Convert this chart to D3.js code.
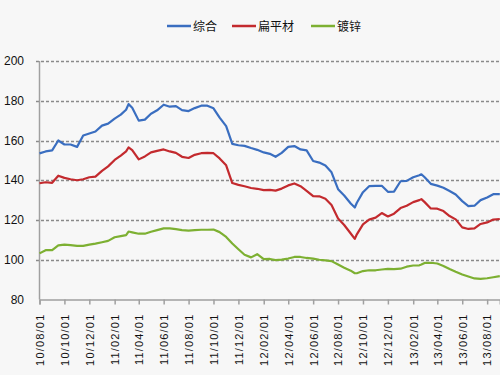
<!DOCTYPE html>
<html>
<head>
<meta charset="utf-8">
<script src="https://cdn.jsdelivr.net/npm/d3@7"></script>
<style>
  body { margin: 0; background: #f7f7f7; }
  svg { display: block; background: #f7f7f7; }
  .tick-label { font-family: "Liberation Sans", "DejaVu Sans", sans-serif; font-size: 11px; fill: #111; }
  .legend-text { font-family: "Noto Sans CJK SC", sans-serif; font-size: 12px; fill: #111; }
</style>
</head>
<body>
<svg id="chart"></svg>
<script>
// dates of the readings (yy/mm/dd)
const dates = [
  '10/08/01','10/08/16','10/09/01','10/09/16','10/10/01','10/10/16','10/11/01','10/11/16','10/12/01','10/12/16',
  '11/01/01','11/01/16','11/02/01','11/02/16','11/03/01','11/03/07','11/03/16','11/04/01','11/04/16','11/05/01',
  '11/05/16','11/06/01','11/06/16','11/07/01','11/07/16','11/08/01','11/08/16','11/09/01','11/09/16','11/10/01',
  '11/10/16','11/11/01','11/11/16','11/12/01','11/12/16',
  '12/01/01','12/01/16','12/02/01','12/02/16','12/03/01','12/03/16','12/04/01','12/04/16','12/05/01','12/05/16',
  '12/06/01','12/06/16','12/07/01','12/07/16','12/08/01','12/08/16','12/09/01','12/09/11','12/09/16','12/10/01',
  '12/10/16','12/11/01','12/11/16','12/12/01','12/12/16',
  '13/01/01','13/01/16','13/02/01','13/02/16','13/02/21','13/03/01','13/03/16','13/04/01','13/04/16','13/05/01',
  '13/05/16','13/06/01','13/06/16','13/07/01','13/07/16','13/08/01','13/08/16','13/09/01'
];

const composite = [
  153.5,154.5,155,160,158,158,156.8,162.5,163.5,164.5,
  167.5,168.5,171,173,175.5,178.3,176.5,170,170.5,173.5,175.2,178,177,177.3,175.3,174.8,176.3,177.5,177.5,176.2,171.5,167.2,158.3,157.6,157.3,
  156.2,155.3,154,153.3,151.8,153.8,156.8,157.2,155.5,155,149.7,148.9,147.4,144,135.5,132.3,128.3,126.3,128.7,134,137,137.2,137.2,134.2,134.3,
  139.5,139.7,141.5,142.5,143,141.5,138.2,137.3,136.2,134.6,132.8,129.5,127,127.2,130,131.3,133,133
];

const flat = [
  138.5,139,138.7,142.3,141.2,140.5,140,140.5,141.5,141.8,
  144.7,147,150.2,152.4,154.5,156.5,155.2,150.5,152,154,154.8,155.5,154.5,153.8,151.8,151.2,152.8,153.6,153.8,153.6,151,147.5,138.6,137.7,137,
  136.1,135.7,135,135.2,134.8,135.8,137.4,138.4,137,134.7,132,131.9,130.7,127.5,120.8,117.5,113.2,110.5,112.8,117.8,120.2,121.2,123.5,121.8,123.2,
  126,127.2,129,130,130.5,129,125.8,125.7,124.5,122,120.3,116.3,115.5,115.8,118,118.8,120.2,120.5
];

const galvanized = [
  103.2,104.8,104.8,107.2,107.6,107.4,107,107,107.6,108.1,
  108.8,109.5,111.3,111.9,112.4,114.2,113.8,113.1,113.1,114.1,114.9,115.8,115.8,115.4,114.9,114.7,114.9,115.1,115.1,115.2,113.9,111.5,108.2,105.3,102.5,
  101.2,102.8,100.3,100.4,99.8,100.1,100.6,101.4,101.4,100.9,100.6,100,99.7,99.3,97.6,96,94.5,93.2,93.2,94.3,94.7,94.7,95.1,95.4,95.3,
  95.5,96.5,97.1,97.2,97.6,98.4,98.5,98.1,96.9,95.4,94,92.6,91.6,90.6,90.4,90.7,91.2,91.8
];

const seriesNames = ['综合', '扁平材', '镀锌'];
const seriesColors = ['#3a6ec0', '#c32a2e', '#7db032'];

const xTickLabels = [
  '10/08/01','10/10/01','10/12/01','11/02/01','11/04/01','11/06/01','11/08/01','11/10/01','11/12/01',
  '12/02/01','12/04/01','12/06/01','12/08/01','12/10/01','12/12/01','13/02/01','13/04/01','13/06/01','13/08/01'
];
const yTicks = [80, 100, 120, 140, 160, 180, 200];

const width = 500, height = 375;
const margin = { top: 61, right: 0, bottom: 75, left: 39.5 };
const parseDate = d3.timeParse('%y/%m/%d');

const svg = d3.select('#chart')
              .attr('width', width)
              .attr('height', height);

const x = d3.scaleTime()
            .domain([parseDate('10/08/01'), parseDate('13/09/01')])
            .range([margin.left, width - 0.2]);
const y = d3.scaleLinear()
            .domain([80, 200])
            .range([height - margin.bottom - 0.5, margin.top]);

// dashed grid lines
svg.append('g')
   .selectAll('line')
   .data(yTicks.filter(d => d > 80))
   .enter().append('line')
   .attr('x1', 36)
   .attr('x2', width)
   .attr('y1', d => Math.round(y(d)) + 0.5)
   .attr('y2', d => Math.round(y(d)) + 0.5)
   .attr('stroke', '#8a8a8a')
   .attr('stroke-width', 1.5)
   .attr('stroke-dasharray', '3,2');

// y labels
svg.append('g')
   .selectAll('text')
   .data(yTicks)
   .enter().append('text')
   .attr('class', 'tick-label')
   .style('font-size', '12px')
   .attr('x', 24)
   .attr('y', d => y(d))
   .attr('dy', '0.35em')
   .attr('text-anchor', 'end')
   .text(d => d);

// x axis
const xAxis = svg.append('g')
   .attr('transform', `translate(0,${y(80)})`)
   .call(d3.axisBottom(x)
           .tickValues(xTickLabels.map(parseDate))
           .tickSize(5)
           .tickFormat(d3.timeFormat('%y/%m/%d')));
xAxis.select('.domain').attr('stroke', '#a0a0a0').attr('stroke-width', 1.5);
xAxis.selectAll('.tick line').attr('stroke', '#a0a0a0').attr('stroke-width', 1.5);
xAxis.selectAll('.tick text')
     .attr('class', 'tick-label')
     .style('letter-spacing', '1.2px')
     .attr('transform', 'rotate(-90)')
     .attr('x', -14)
     .attr('y', 0)
     .attr('dy', '0.35em')
     .attr('text-anchor', 'end')
     .attr('fill', '#111');

// y axis line
svg.append('line')
   .attr('x1', margin.left).attr('x2', margin.left)
   .attr('y1', margin.top).attr('y2', y(80))
   .attr('stroke', '#a0a0a0')
   .attr('stroke-width', 1.5);

// series lines
const allSeries = [composite, flat, galvanized];
const line = d3.line()
               .x((d, i) => x(parseDate(dates[i])))
               .y(d => y(d));

allSeries.forEach(function(s, i) {
    svg.append('path')
       .datum(s)
       .attr('fill', 'none')
       .attr('stroke', seriesColors[i])
       .attr('stroke-width', 2.2)
       .attr('stroke-linejoin', 'round')
       .attr('d', line);
});

// legend
const legendX = [167, 232, 311];
const legend = svg.append('g');
seriesNames.forEach(function(name, i) {
    legend.append('line')
          .attr('x1', legendX[i]).attr('x2', legendX[i] + 24)
          .attr('y1', 26).attr('y2', 26)
          .attr('stroke', seriesColors[i])
          .attr('stroke-width', 2.5);
    legend.append('text')
          .attr('class', 'legend-text')
          .attr('x', legendX[i] + 26)
          .attr('y', 26)
          .attr('dy', '0.38em')
          .text(name);
});
</script>
</body>
</html>
